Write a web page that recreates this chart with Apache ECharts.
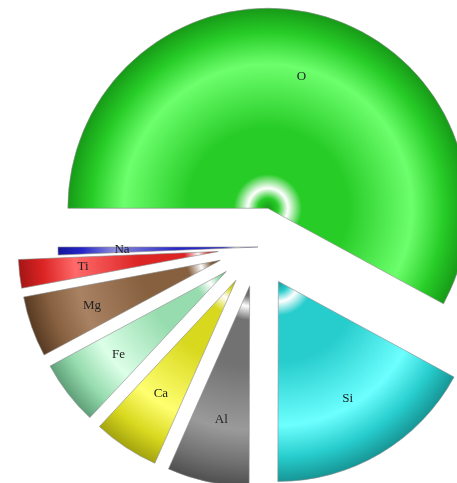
<!DOCTYPE html>
<html>
<head>
<meta charset="utf-8">
<script src="https://cdn.jsdelivr.net/npm/echarts@6/dist/echarts.min.js"></script>
<style>html,body{margin:0;padding:0;background:#fff;}#c{width:457px;height:483px;}</style>
</head>
<body>
<div id="c"></div>
<script>
const elements = ['O', 'Si', 'Al', 'Ca', 'Fe', 'Mg', 'Ti', 'Na'];
const values = [57.9, 17.1, 6.6, 5.3, 5.2, 4.9, 2.3, 0.64];
const exploded = [true, true, true, true, true, true, true, false];
// [dark, base, light] per slice
const palette = [
  ['#179a17', '#27cc27', '#6dff6d'],
  ['#179595', '#27cccc', '#6dffff'],
  ['#4f4f4f', '#727272', '#9a9a9a'],
  ['#a3a30f', '#d8d81f', '#ffff70'],
  ['#5f9f78', '#96dcae', '#dcffe8'],
  ['#573a22', '#86603f', '#a98263'],
  ['#a51515', '#dc2424', '#ff6a6a'],
  ['#15159a', '#2525c8', '#8a8ad8']
];
const CX = 258, CY = 247, R = 200;

function grad(p) {
  return {
    type: 'radial', x: CX, y: CY, r: R, global: true,
    colorStops: [
      { offset: 0, color: p[0] },
      { offset: 0.05, color: p[1] },
      { offset: 0.1, color: '#ffffff' },
      { offset: 0.17, color: p[1] },
      { offset: 0.4, color: p[1] },
      { offset: 0.72, color: p[2] },
      { offset: 0.88, color: p[1] },
      { offset: 1, color: p[0] }
    ]
  };
}

const mainData = elements.map((n, i) => ({
  name: n, value: values[i], selected: exploded[i],
  itemStyle: { color: grad(palette[i]) }
}));
const labelData = elements.map((n, i) => ({
  name: n, value: values[i], selected: exploded[i]
}));

const chart = echarts.init(document.getElementById('c'), null, { renderer: 'canvas' });
chart.setOption({
  animation: false,
  series: [
    {
      type: 'pie', center: [CX, CY], radius: [0, R], startAngle: 180, clockwise: true,
      selectedMode: 'multiple', selectedOffset: 40,
      itemStyle: { borderColor: '#8a8a8a', borderWidth: 0.6 },
      label: { show: false }, labelLine: { show: false },
      emphasis: { disabled: true },
      silent: true,
      data: mainData
    },
    {
      type: 'pie', center: [CX, CY], radius: [66, R], startAngle: 180, clockwise: true,
      selectedMode: 'multiple', selectedOffset: 40,
      avoidLabelOverlap: false, minShowLabelAngle: 0,
      labelLayout: { hideOverlap: false },
      itemStyle: { color: 'rgba(0,0,0,0)', borderWidth: 0 },
      label: { show: true, position: 'inside', color: '#222', fontFamily: 'Liberation Serif', fontSize: 13 },
      labelLine: { show: false },
      emphasis: { disabled: true },
      silent: true,
      data: labelData
    }
  ]
});
</script>
</body>
</html>
